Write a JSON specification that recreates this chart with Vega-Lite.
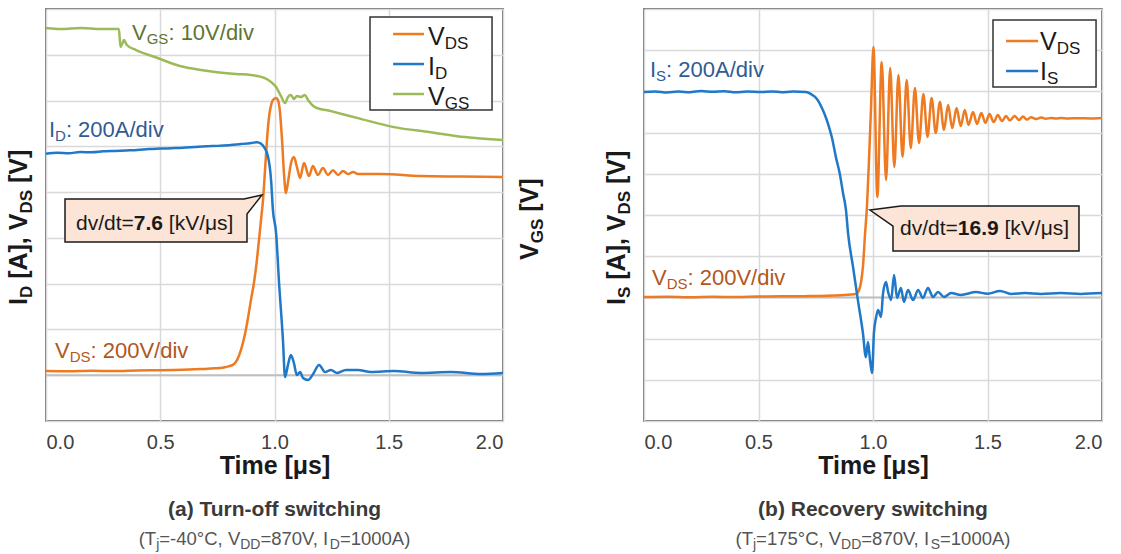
{
"$schema":"https://vega.github.io/schema/vega-lite/v6.json",
"background":"white",
"padding":{"left":6,"top":8,"right":4,"bottom":0},
"autosize":{"type":"pad"},
"config":{"font":"Liberation Sans","view":{"stroke":"#404040","strokeWidth":1.5}},
"datasets":{
"a_main":[
{"s":"V_DS","t":0,"v":18},{"s":"V_DS","t":0.1,"v":17},{"s":"V_DS","t":0.2,"v":19},{"s":"V_DS","t":0.3,"v":18},{"s":"V_DS","t":0.4,"v":21},{"s":"V_DS","t":0.5,"v":22},{"s":"V_DS","t":0.6,"v":24},{"s":"V_DS","t":0.678,"v":27},{"s":"V_DS","t":0.74,"v":30},{"s":"V_DS","t":0.788,"v":36},{"s":"V_DS","t":0.818,"v":45},{"s":"V_DS","t":0.836,"v":66},{"s":"V_DS","t":0.853,"v":110},{"s":"V_DS","t":0.871,"v":180},{"s":"V_DS","t":0.884,"v":250},{"s":"V_DS","t":0.897,"v":329},{"s":"V_DS","t":0.91,"v":403},{"s":"V_DS","t":0.923,"v":503},{"s":"V_DS","t":0.932,"v":590},{"s":"V_DS","t":0.941,"v":678},{"s":"V_DS","t":0.95,"v":769},{"s":"V_DS","t":0.958,"v":887},{"s":"V_DS","t":0.967,"v":1027},{"s":"V_DS","t":0.976,"v":1128},{"s":"V_DS","t":0.985,"v":1180},{"s":"V_DS","t":0.993,"v":1202},{"s":"V_DS","t":1.007,"v":1211},{"s":"V_DS","t":1.015,"v":1202},{"s":"V_DS","t":1.024,"v":1150},{"s":"V_DS","t":1.033,"v":1027},{"s":"V_DS","t":1.042,"v":874},{"s":"V_DS","t":1.05,"v":796},{"s":"V_DS","t":1.06,"v":850},{"s":"V_DS","t":1.072,"v":925},{"s":"V_DS","t":1.085,"v":953},{"s":"V_DS","t":1.098,"v":910},{"s":"V_DS","t":1.112,"v":862},{"s":"V_DS","t":1.129,"v":927},{"s":"V_DS","t":1.151,"v":870},{"s":"V_DS","t":1.168,"v":914},{"s":"V_DS","t":1.19,"v":875},{"s":"V_DS","t":1.212,"v":905},{"s":"V_DS","t":1.234,"v":875},{"s":"V_DS","t":1.256,"v":896},{"s":"V_DS","t":1.278,"v":875},{"s":"V_DS","t":1.3,"v":892},{"s":"V_DS","t":1.322,"v":879},{"s":"V_DS","t":1.344,"v":888},{"s":"V_DS","t":1.365,"v":879},{"s":"V_DS","t":1.466,"v":879},{"s":"V_DS","t":1.641,"v":870},{"s":"V_DS","t":1.816,"v":868},{"s":"V_DS","t":2.0,"v":866},
{"s":"I_D","t":0,"v":968},{"s":"I_D","t":0.05,"v":972},{"s":"I_D","t":0.1,"v":970},{"s":"I_D","t":0.15,"v":975},{"s":"I_D","t":0.2,"v":974},{"s":"I_D","t":0.25,"v":978},{"s":"I_D","t":0.3,"v":980},{"s":"I_D","t":0.35,"v":982},{"s":"I_D","t":0.4,"v":984},{"s":"I_D","t":0.45,"v":988},{"s":"I_D","t":0.5,"v":990},{"s":"I_D","t":0.55,"v":992},{"s":"I_D","t":0.6,"v":994},{"s":"I_D","t":0.65,"v":997},{"s":"I_D","t":0.7,"v":1000},{"s":"I_D","t":0.75,"v":1002},{"s":"I_D","t":0.8,"v":1005},{"s":"I_D","t":0.853,"v":1010},{"s":"I_D","t":0.9,"v":1015},{"s":"I_D","t":0.923,"v":1018},{"s":"I_D","t":0.94,"v":1012},{"s":"I_D","t":0.954,"v":997},{"s":"I_D","t":0.972,"v":953},{"s":"I_D","t":0.985,"v":853},{"s":"I_D","t":0.993,"v":722},{"s":"I_D","t":1.007,"v":621},{"s":"I_D","t":1.02,"v":403},{"s":"I_D","t":1.037,"v":154},{"s":"I_D","t":1.046,"v":-8},{"s":"I_D","t":1.059,"v":45},{"s":"I_D","t":1.072,"v":88},{"s":"I_D","t":1.085,"v":53},{"s":"I_D","t":1.098,"v":1},{"s":"I_D","t":1.112,"v":14},{"s":"I_D","t":1.125,"v":-12},{"s":"I_D","t":1.147,"v":-21},{"s":"I_D","t":1.169,"v":5},{"s":"I_D","t":1.195,"v":45},{"s":"I_D","t":1.221,"v":14},{"s":"I_D","t":1.247,"v":23},{"s":"I_D","t":1.274,"v":10},{"s":"I_D","t":1.313,"v":23},{"s":"I_D","t":1.365,"v":23},{"s":"I_D","t":1.422,"v":14},{"s":"I_D","t":1.523,"v":18},{"s":"I_D","t":1.641,"v":10},{"s":"I_D","t":1.772,"v":14},{"s":"I_D","t":1.904,"v":5},{"s":"I_D","t":2.0,"v":10}
],
"a_gs":[
{"t":0,"v":15.85},{"t":0.066,"v":15.63},{"t":0.153,"v":15.85},{"t":0.241,"v":15.63},{"t":0.319,"v":15.63},{"t":0.326,"v":11.7},{"t":0.333,"v":12.35},{"t":0.341,"v":13.23},{"t":0.354,"v":12.14},{"t":0.394,"v":11.04},{"t":0.477,"v":9.51},{"t":0.586,"v":7.55},{"t":0.678,"v":6.68},{"t":0.74,"v":6.24},{"t":0.832,"v":5.8},{"t":0.897,"v":5.58},{"t":0.958,"v":4.92},{"t":0.985,"v":4.05},{"t":1.007,"v":2.96},{"t":1.028,"v":1.0},{"t":1.046,"v":-0.53},{"t":1.059,"v":0.78},{"t":1.072,"v":1.21},{"t":1.085,"v":0.34},{"t":1.098,"v":1.0},{"t":1.116,"v":0.78},{"t":1.133,"v":1.21},{"t":1.147,"v":0.12},{"t":1.177,"v":-1.43},{"t":1.247,"v":-2.31},{"t":1.365,"v":-3.84},{"t":1.523,"v":-5.8},{"t":1.681,"v":-6.9},{"t":1.834,"v":-7.98},{"t":2.0,"v":-8.64}
],
"b_main":[
{"s":"V_DS","t":0,"v":2},{"s":"V_DS","t":0.1,"v":3},{"s":"V_DS","t":0.2,"v":1},{"s":"V_DS","t":0.3,"v":3},{"s":"V_DS","t":0.4,"v":2},{"s":"V_DS","t":0.5,"v":4},{"s":"V_DS","t":0.6,"v":5},{"s":"V_DS","t":0.7,"v":6},{"s":"V_DS","t":0.8,"v":8},{"s":"V_DS","t":0.86,"v":11},{"s":"V_DS","t":0.926,"v":17},{"s":"V_DS","t":0.939,"v":36},{"s":"V_DS","t":0.948,"v":75},{"s":"V_DS","t":0.956,"v":148},{"s":"V_DS","t":0.965,"v":303},{"s":"V_DS","t":0.974,"v":449},{"s":"V_DS","t":0.983,"v":682},{"s":"V_DS","t":0.991,"v":910},{"s":"V_DS","t":1.002,"v":1215},{"s":"V_DS","t":1.019,"v":487},{"s":"V_DS","t":1.038,"v":1143},{"s":"V_DS","t":1.057,"v":570},{"s":"V_DS","t":1.075,"v":1113},{"s":"V_DS","t":1.093,"v":633},{"s":"V_DS","t":1.111,"v":1080},{"s":"V_DS","t":1.129,"v":682},{"s":"V_DS","t":1.147,"v":1055},{"s":"V_DS","t":1.165,"v":725},{"s":"V_DS","t":1.183,"v":1016},{"s":"V_DS","t":1.201,"v":749},{"s":"V_DS","t":1.22,"v":987},{"s":"V_DS","t":1.238,"v":779},{"s":"V_DS","t":1.256,"v":968},{"s":"V_DS","t":1.274,"v":798},{"s":"V_DS","t":1.292,"v":948},{"s":"V_DS","t":1.31,"v":813},{"s":"V_DS","t":1.328,"v":934},{"s":"V_DS","t":1.346,"v":822},{"s":"V_DS","t":1.365,"v":919},{"s":"V_DS","t":1.383,"v":832},{"s":"V_DS","t":1.401,"v":910},{"s":"V_DS","t":1.417,"v":837},{"s":"V_DS","t":1.437,"v":900},{"s":"V_DS","t":1.454,"v":842},{"s":"V_DS","t":1.473,"v":895},{"s":"V_DS","t":1.491,"v":847},{"s":"V_DS","t":1.509,"v":890},{"s":"V_DS","t":1.527,"v":851},{"s":"V_DS","t":1.545,"v":885},{"s":"V_DS","t":1.563,"v":856},{"s":"V_DS","t":1.581,"v":880},{"s":"V_DS","t":1.598,"v":859},{"s":"V_DS","t":1.618,"v":880},{"s":"V_DS","t":1.638,"v":861},{"s":"V_DS","t":1.655,"v":878},{"s":"V_DS","t":1.672,"v":863},{"s":"V_DS","t":1.69,"v":875},{"s":"V_DS","t":1.712,"v":866},{"s":"V_DS","t":1.734,"v":873},{"s":"V_DS","t":1.755,"v":867},{"s":"V_DS","t":1.777,"v":871},{"s":"V_DS","t":1.8,"v":868},{"s":"V_DS","t":1.821,"v":871},{"s":"V_DS","t":1.85,"v":869},{"s":"V_DS","t":1.9,"v":870},{"s":"V_DS","t":1.95,"v":869},{"s":"V_DS","t":2.0,"v":871},
{"s":"I_S","t":0,"v":997},{"s":"I_S","t":0.05,"v":1000},{"s":"I_S","t":0.1,"v":995},{"s":"I_S","t":0.15,"v":999},{"s":"I_S","t":0.2,"v":996},{"s":"I_S","t":0.249,"v":1002},{"s":"I_S","t":0.3,"v":998},{"s":"I_S","t":0.35,"v":1001},{"s":"I_S","t":0.4,"v":996},{"s":"I_S","t":0.45,"v":999},{"s":"I_S","t":0.511,"v":997},{"s":"I_S","t":0.56,"v":1000},{"s":"I_S","t":0.6,"v":996},{"s":"I_S","t":0.65,"v":999},{"s":"I_S","t":0.707,"v":997},{"s":"I_S","t":0.729,"v":987},{"s":"I_S","t":0.747,"v":973},{"s":"I_S","t":0.764,"v":948},{"s":"I_S","t":0.777,"v":919},{"s":"I_S","t":0.795,"v":871},{"s":"I_S","t":0.808,"v":827},{"s":"I_S","t":0.821,"v":774},{"s":"I_S","t":0.838,"v":681},{"s":"I_S","t":0.856,"v":594},{"s":"I_S","t":0.869,"v":507},{"s":"I_S","t":0.882,"v":424},{"s":"I_S","t":0.891,"v":312},{"s":"I_S","t":0.913,"v":147},{"s":"I_S","t":0.934,"v":-13},{"s":"I_S","t":0.956,"v":-173},{"s":"I_S","t":0.969,"v":-290},{"s":"I_S","t":0.978,"v":-217},{"s":"I_S","t":0.987,"v":-304},{"s":"I_S","t":0.996,"v":-367},{"s":"I_S","t":1.004,"v":-173},{"s":"I_S","t":1.013,"v":-100},{"s":"I_S","t":1.022,"v":-61},{"s":"I_S","t":1.035,"v":-95},{"s":"I_S","t":1.044,"v":21},{"s":"I_S","t":1.057,"v":75},{"s":"I_S","t":1.066,"v":26},{"s":"I_S","t":1.079,"v":-13},{"s":"I_S","t":1.092,"v":109},{"s":"I_S","t":1.105,"v":-3},{"s":"I_S","t":1.122,"v":46},{"s":"I_S","t":1.135,"v":-22},{"s":"I_S","t":1.153,"v":36},{"s":"I_S","t":1.175,"v":-13},{"s":"I_S","t":1.197,"v":36},{"s":"I_S","t":1.218,"v":-3},{"s":"I_S","t":1.24,"v":46},{"s":"I_S","t":1.262,"v":2},{"s":"I_S","t":1.284,"v":26},{"s":"I_S","t":1.31,"v":2},{"s":"I_S","t":1.341,"v":21},{"s":"I_S","t":1.384,"v":12},{"s":"I_S","t":1.45,"v":26},{"s":"I_S","t":1.5,"v":18},{"s":"I_S","t":1.555,"v":31},{"s":"I_S","t":1.603,"v":17},{"s":"I_S","t":1.664,"v":21},{"s":"I_S","t":1.734,"v":17},{"s":"I_S","t":1.821,"v":21},{"s":"I_S","t":1.908,"v":17},{"s":"I_S","t":2.0,"v":21}
]
},
"spacing":141,
"bounds":"flush",
"hconcat":[
{
"width":457,"height":412,
"layer":[
{"data":{"name":"a_gs"},
 "mark":{"type":"line","color":"#9bbb59","strokeWidth":2.5,"interpolate":"monotone"},
 "encoding":{
  "x":{"field":"t","type":"quantitative","scale":{"domain":[0,2],"nice":false},"axis":{"values":[0,0.5,1,1.5,2],"format":".1f","title":"Time [μs]","grid":true,"gridColor":"#d9d9d9","gridWidth":1.5,"ticks":false,"tickSize":0,"domain":false,"labelFontSize":20,"labelColor":"#404040","labelPadding":11,"titleFontSize":25,"titleFontWeight":"bold","titleColor":"#1a1a1a","titleY":52,"titleBaseline":"alphabetic"}},
  "y":{"field":"v","type":"quantitative","scale":{"domain":[-70,20],"nice":false},"axis":null}
 }},
{"data":{"values":[{}]},
 "layer":[
  {"mark":{"type":"rule","color":"#bfbfbf","strokeWidth":2},"encoding":{"y":{"datum":0}}},
  {"data":{"name":"a_main"},
   "mark":{"type":"line","strokeWidth":2.5,"interpolate":"monotone"},
   "encoding":{
    "x":{"field":"t","type":"quantitative","scale":{"domain":[0,2],"nice":false},"axis":{"values":[0,0.5,1,1.5,2],"format":".1f","title":"Time [μs]","grid":true,"gridColor":"#d9d9d9","gridWidth":1.5,"ticks":false,"tickSize":0,"domain":false,"labelFontSize":20,"labelColor":"#404040","labelPadding":11,"titleFontSize":25,"titleFontWeight":"bold","titleColor":"#1a1a1a","titleY":52,"titleBaseline":"alphabetic"}},
    "y":{"field":"v","type":"quantitative","scale":{"domain":[-200,1600],"nice":false},"axis":{"values":[-200,0,200,400,600,800,1000,1200,1400,1600],"grid":true,"gridColor":"#d9d9d9","gridWidth":1.5,"labels":false,"ticks":false,"domain":false,"title":null}},
    "color":{"field":"s","type":"nominal","scale":{"domain":["V_DS","I_D","I_S"],"range":["#ee7a22","#1f78c8","#1f78c8"]},"legend":null}
   }},
  {"mark":{"type":"point","shape":"M-0.7583,-0.1792L0.7333,-0.1792L0.8833,-0.2125L0.7583,-0.0542L0.7583,0.1792L-0.7583,0.1792Z","size":57600,"filled":true,"fill":"#fce4d6","stroke":"#1a1a1a","strokeWidth":1.5,"opacity":1},"encoding":{"x":{"datum":0.4814},"y":{"datum":675.9}}},
  {"mark":{"type":"text","text":"dv/dt=","fontSize":21,"color":"#1a1a1a","align":"left","baseline":"alphabetic"},"encoding":{"x":{"datum":0.1313},"y":{"datum":636.6}}},
  {"mark":{"type":"text","text":"7.6","fontSize":21,"fontWeight":"bold","color":"#1a1a1a","align":"left","baseline":"alphabetic","dx":57.8},"encoding":{"x":{"datum":0.1313},"y":{"datum":636.6}}},
  {"mark":{"type":"text","text":"[kV/μs]","fontSize":21,"color":"#1a1a1a","align":"left","baseline":"alphabetic","dx":92.8},"encoding":{"x":{"datum":0.1313},"y":{"datum":636.6}}},
  {"mark":{"type":"rect","fill":"white","stroke":"#333333","strokeWidth":1.5},"encoding":{"x":{"datum":1.418},"x2":{"datum":1.952},"y":{"datum":1565},"y2":{"datum":1159}}},
  {"mark":{"type":"rule","color":"#ee7a22","strokeWidth":2.5},"encoding":{"x":{"datum":1.519},"x2":{"datum":1.654},"y":{"datum":1490.7}}},
  {"mark":{"type":"rule","color":"#1f78c8","strokeWidth":2.5},"encoding":{"x":{"datum":1.519},"x2":{"datum":1.654},"y":{"datum":1359.6}}},
  {"mark":{"type":"rule","color":"#9bbb59","strokeWidth":2.5},"encoding":{"x":{"datum":1.519},"x2":{"datum":1.654},"y":{"datum":1228.6}}},
  {"mark":{"type":"text","text":"V","fontSize":25,"color":"#1a1a1a","align":"left","baseline":"alphabetic"},"encoding":{"x":{"datum":1.6718},"y":{"datum":1443.5}}},
  {"mark":{"type":"text","text":"DS","fontSize":17,"color":"#1a1a1a","align":"left","baseline":"alphabetic","dx":16.7,"dy":4},"encoding":{"x":{"datum":1.6718},"y":{"datum":1443.5}}},
  {"mark":{"type":"text","text":"I","fontSize":25,"color":"#1a1a1a","align":"left","baseline":"alphabetic"},"encoding":{"x":{"datum":1.6718},"y":{"datum":1312.5}}},
  {"mark":{"type":"text","text":"D","fontSize":17,"color":"#1a1a1a","align":"left","baseline":"alphabetic","dx":7,"dy":4},"encoding":{"x":{"datum":1.6718},"y":{"datum":1312.5}}},
  {"mark":{"type":"text","text":"V","fontSize":25,"color":"#1a1a1a","align":"left","baseline":"alphabetic"},"encoding":{"x":{"datum":1.6718},"y":{"datum":1181.4}}},
  {"mark":{"type":"text","text":"GS","fontSize":17,"color":"#1a1a1a","align":"left","baseline":"alphabetic","dx":16.7,"dy":4},"encoding":{"x":{"datum":1.6718},"y":{"datum":1181.4}}},
  {"mark":{"type":"text","text":"V","fontSize":22,"color":"#5f7530","align":"left","baseline":"alphabetic"},"encoding":{"x":{"datum":0.3764},"y":{"datum":1464.5}}},
  {"mark":{"type":"text","text":"GS","fontSize":15,"color":"#5f7530","align":"left","baseline":"alphabetic","dx":14.7,"dy":4},"encoding":{"x":{"datum":0.3764},"y":{"datum":1464.5}}},
  {"mark":{"type":"text","text":": 10V/div","fontSize":22,"color":"#5f7530","align":"left","baseline":"alphabetic","dx":36.4},"encoding":{"x":{"datum":0.3764},"y":{"datum":1464.5}}},
  {"mark":{"type":"text","text":"I","fontSize":22,"color":"#2f5b94","align":"left","baseline":"alphabetic"},"encoding":{"x":{"datum":0.0131},"y":{"datum":1040.7}}},
  {"mark":{"type":"text","text":"D","fontSize":15,"color":"#2f5b94","align":"left","baseline":"alphabetic","dx":6.1,"dy":4},"encoding":{"x":{"datum":0.0131},"y":{"datum":1040.7}}},
  {"mark":{"type":"text","text":": 200A/div","fontSize":22,"color":"#2f5b94","align":"left","baseline":"alphabetic","dx":16.9},"encoding":{"x":{"datum":0.0131},"y":{"datum":1040.7}}},
  {"mark":{"type":"text","text":"V","fontSize":22,"color":"#b0581c","align":"left","baseline":"alphabetic"},"encoding":{"x":{"datum":0.0394},"y":{"datum":75.1}}},
  {"mark":{"type":"text","text":"DS","fontSize":15,"color":"#b0581c","align":"left","baseline":"alphabetic","dx":14.7,"dy":4},"encoding":{"x":{"datum":0.0394},"y":{"datum":75.1}}},
  {"mark":{"type":"text","text":": 200V/div","fontSize":22,"color":"#b0581c","align":"left","baseline":"alphabetic","dx":35.5},"encoding":{"x":{"datum":0.0394},"y":{"datum":75.1}}},
  {"mark":{"type":"text","text":"I","fontSize":25,"fontWeight":"bold","color":"#1a1a1a","align":"left","baseline":"alphabetic","angle":270},"encoding":{"x":{"datum":-0.0832},"y":{"datum":306.7}}},
  {"mark":{"type":"text","text":"D","fontSize":17,"fontWeight":"bold","color":"#1a1a1a","align":"left","baseline":"alphabetic","angle":270,"dx":6.95,"dy":5},"encoding":{"x":{"datum":-0.0832},"y":{"datum":306.7}}},
  {"mark":{"type":"text","text":"[A], V","fontSize":25,"fontWeight":"bold","color":"#1a1a1a","align":"left","baseline":"alphabetic","angle":270,"dx":26.15},"encoding":{"x":{"datum":-0.0832},"y":{"datum":306.7}}},
  {"mark":{"type":"text","text":"DS","fontSize":17,"fontWeight":"bold","color":"#1a1a1a","align":"left","baseline":"alphabetic","angle":270,"dx":91.4,"dy":5},"encoding":{"x":{"datum":-0.0832},"y":{"datum":306.7}}},
  {"mark":{"type":"text","text":"[V]","fontSize":25,"fontWeight":"bold","color":"#1a1a1a","align":"left","baseline":"alphabetic","angle":270,"dx":121.95},"encoding":{"x":{"datum":-0.0832},"y":{"datum":306.7}}},
  {"mark":{"type":"text","text":"V","fontSize":25,"fontWeight":"bold","color":"#1a1a1a","align":"left","baseline":"alphabetic","angle":270},"encoding":{"x":{"datum":2.1532},"y":{"datum":503.3}}},
  {"mark":{"type":"text","text":"GS","fontSize":17,"fontWeight":"bold","color":"#1a1a1a","align":"left","baseline":"alphabetic","angle":270,"dx":16.7,"dy":5},"encoding":{"x":{"datum":2.1532},"y":{"datum":503.3}}},
  {"mark":{"type":"text","text":"[V]","fontSize":25,"fontWeight":"bold","color":"#1a1a1a","align":"left","baseline":"alphabetic","angle":270,"dx":48.25},"encoding":{"x":{"datum":2.1532},"y":{"datum":503.3}}},
  {"mark":{"type":"text","text":"(a) Turn-off switching","fontSize":21,"fontWeight":"bold","color":"#3a3a3a","align":"center","baseline":"alphabetic"},"encoding":{"x":{"datum":1},"y":{"datum":-615.2}}},
  {"mark":{"type":"text","text":"(T","fontSize":18.5,"color":"#555555","align":"left","baseline":"alphabetic"},"encoding":{"x":{"datum":0.4057},"y":{"datum":-741.8}}},
  {"mark":{"type":"text","text":"j","fontSize":14,"color":"#555555","align":"left","baseline":"alphabetic","dx":17.5,"dy":4},"encoding":{"x":{"datum":0.4057},"y":{"datum":-741.8}}},
  {"mark":{"type":"text","text":"=-40°C, V","fontSize":18.5,"color":"#555555","align":"left","baseline":"alphabetic","dx":20.6},"encoding":{"x":{"datum":0.4057},"y":{"datum":-741.8}}},
  {"mark":{"type":"text","text":"DD","fontSize":14,"color":"#555555","align":"left","baseline":"alphabetic","dx":101.5,"dy":4},"encoding":{"x":{"datum":0.4057},"y":{"datum":-741.8}}},
  {"mark":{"type":"text","text":"=870V, I","fontSize":18.5,"color":"#555555","align":"left","baseline":"alphabetic","dx":121.7},"encoding":{"x":{"datum":0.4057},"y":{"datum":-741.8}}},
  {"mark":{"type":"text","text":"D","fontSize":14,"color":"#555555","align":"left","baseline":"alphabetic","dx":191.1,"dy":4},"encoding":{"x":{"datum":0.4057},"y":{"datum":-741.8}}},
  {"mark":{"type":"text","text":"=1000A)","fontSize":18.5,"color":"#555555","align":"left","baseline":"alphabetic","dx":201.2},"encoding":{"x":{"datum":0.4057},"y":{"datum":-741.8}}}
 ]}
],
"resolve":{"scale":{"y":"independent"}}
},
{
"width":458,"height":412,
"data":{"values":[{}]},
"layer":[
  {"mark":{"type":"rule","color":"#bfbfbf","strokeWidth":2},"encoding":{"y":{"datum":0}}},
  {"data":{"name":"b_main"},
   "mark":{"type":"line","strokeWidth":2.5,"interpolate":"monotone"},
   "encoding":{
    "x":{"field":"t","type":"quantitative","scale":{"domain":[0,2],"nice":false},"axis":{"values":[0,0.5,1,1.5,2],"format":".1f","title":"Time [μs]","grid":true,"gridColor":"#d9d9d9","gridWidth":1.5,"ticks":false,"tickSize":0,"domain":false,"labelFontSize":20,"labelColor":"#404040","labelPadding":11,"titleFontSize":25,"titleFontWeight":"bold","titleColor":"#1a1a1a","titleY":52,"titleBaseline":"alphabetic"}},
    "y":{"field":"v","type":"quantitative","scale":{"domain":[-600,1400],"nice":false},"axis":{"values":[-600,-400,-200,0,200,400,600,800,1000,1200,1400],"grid":true,"gridColor":"#d9d9d9","gridWidth":1.5,"labels":false,"ticks":false,"domain":false,"title":null}},
    "color":{"field":"s","type":"nominal","scale":{"domain":["V_DS","I_D","I_S"],"range":["#ee7a22","#1f78c8","#1f78c8"]},"legend":null}
   }},
  {"mark":{"type":"point","shape":"M-0.7083,-0.1875L0.775,-0.1875L0.775,0.1875L-0.775,0.1875L-0.775,-0.0208L-0.9667,-0.1542Z","size":57600,"filled":true,"fill":"#fce4d6","stroke":"#1a1a1a","strokeWidth":1.5,"opacity":1},"encoding":{"x":{"datum":1.4934},"y":{"datum":334.4}}},
  {"mark":{"type":"text","text":"dv/dt=","fontSize":21,"color":"#1a1a1a","align":"left","baseline":"alphabetic"},"encoding":{"x":{"datum":1.118},"y":{"datum":300.5}}},
  {"mark":{"type":"text","text":"16.9","fontSize":21,"fontWeight":"bold","color":"#1a1a1a","align":"left","baseline":"alphabetic","dx":57.8},"encoding":{"x":{"datum":1.118},"y":{"datum":300.5}}},
  {"mark":{"type":"text","text":"[kV/μs]","fontSize":21,"color":"#1a1a1a","align":"left","baseline":"alphabetic","dx":104.5},"encoding":{"x":{"datum":1.118},"y":{"datum":300.5}}},
  {"mark":{"type":"rect","fill":"white","stroke":"#333333","strokeWidth":1.5},"encoding":{"x":{"datum":1.524},"x2":{"datum":1.974},"y":{"datum":1346.5},"y2":{"datum":1021}}},
  {"mark":{"type":"rule","color":"#ee7a22","strokeWidth":2.5},"encoding":{"x":{"datum":1.581},"x2":{"datum":1.721},"y":{"datum":1244.6}}},
  {"mark":{"type":"rule","color":"#1f78c8","strokeWidth":2.5},"encoding":{"x":{"datum":1.581},"x2":{"datum":1.721},"y":{"datum":1099}}},
  {"mark":{"type":"text","text":"V","fontSize":25,"color":"#1a1a1a","align":"left","baseline":"alphabetic"},"encoding":{"x":{"datum":1.729},"y":{"datum":1200.8}}},
  {"mark":{"type":"text","text":"DS","fontSize":17,"color":"#1a1a1a","align":"left","baseline":"alphabetic","dx":16.7,"dy":4},"encoding":{"x":{"datum":1.729},"y":{"datum":1200.8}}},
  {"mark":{"type":"text","text":"I","fontSize":25,"color":"#1a1a1a","align":"left","baseline":"alphabetic"},"encoding":{"x":{"datum":1.729},"y":{"datum":1055}}},
  {"mark":{"type":"text","text":"S","fontSize":17,"color":"#1a1a1a","align":"left","baseline":"alphabetic","dx":7,"dy":4},"encoding":{"x":{"datum":1.729},"y":{"datum":1055}}},
  {"mark":{"type":"text","text":"I","fontSize":22,"color":"#2f5b94","align":"left","baseline":"alphabetic"},"encoding":{"x":{"datum":0.026},"y":{"datum":1069.8}}},
  {"mark":{"type":"text","text":"S","fontSize":15,"color":"#2f5b94","align":"left","baseline":"alphabetic","dx":6.1,"dy":4},"encoding":{"x":{"datum":0.026},"y":{"datum":1069.8}}},
  {"mark":{"type":"text","text":": 200A/div","fontSize":22,"color":"#2f5b94","align":"left","baseline":"alphabetic","dx":16.1},"encoding":{"x":{"datum":0.026},"y":{"datum":1069.8}}},
  {"mark":{"type":"text","text":"V","fontSize":22,"color":"#b0581c","align":"left","baseline":"alphabetic"},"encoding":{"x":{"datum":0.035},"y":{"datum":60.2}}},
  {"mark":{"type":"text","text":"DS","fontSize":15,"color":"#b0581c","align":"left","baseline":"alphabetic","dx":14.7,"dy":4},"encoding":{"x":{"datum":0.035},"y":{"datum":60.2}}},
  {"mark":{"type":"text","text":": 200V/div","fontSize":22,"color":"#b0581c","align":"left","baseline":"alphabetic","dx":35.5},"encoding":{"x":{"datum":0.035},"y":{"datum":60.2}}},
  {"mark":{"type":"text","text":"I","fontSize":25,"fontWeight":"bold","color":"#1a1a1a","align":"left","baseline":"alphabetic","angle":270},"encoding":{"x":{"datum":-0.083},"y":{"datum":-36.9}}},
  {"mark":{"type":"text","text":"S","fontSize":17,"fontWeight":"bold","color":"#1a1a1a","align":"left","baseline":"alphabetic","angle":270,"dx":6.95,"dy":5},"encoding":{"x":{"datum":-0.083},"y":{"datum":-36.9}}},
  {"mark":{"type":"text","text":"[A], V","fontSize":25,"fontWeight":"bold","color":"#1a1a1a","align":"left","baseline":"alphabetic","angle":270,"dx":25.25},"encoding":{"x":{"datum":-0.083},"y":{"datum":-36.9}}},
  {"mark":{"type":"text","text":"DS","fontSize":17,"fontWeight":"bold","color":"#1a1a1a","align":"left","baseline":"alphabetic","angle":270,"dx":90.5,"dy":5},"encoding":{"x":{"datum":-0.083},"y":{"datum":-36.9}}},
  {"mark":{"type":"text","text":"[V]","fontSize":25,"fontWeight":"bold","color":"#1a1a1a","align":"left","baseline":"alphabetic","angle":270,"dx":121.05},"encoding":{"x":{"datum":-0.083},"y":{"datum":-36.9}}},
  {"mark":{"type":"text","text":"(b) Recovery switching","fontSize":21,"fontWeight":"bold","color":"#3a3a3a","align":"center","baseline":"alphabetic"},"encoding":{"x":{"datum":1},"y":{"datum":-1061.1}}},
  {"mark":{"type":"text","text":"(T","fontSize":18.5,"color":"#555555","align":"left","baseline":"alphabetic"},"encoding":{"x":{"datum":0.3996},"y":{"datum":-1201.9}}},
  {"mark":{"type":"text","text":"j","fontSize":14,"color":"#555555","align":"left","baseline":"alphabetic","dx":17.5,"dy":4},"encoding":{"x":{"datum":0.3996},"y":{"datum":-1201.9}}},
  {"mark":{"type":"text","text":"=175°C, V","fontSize":18.5,"color":"#555555","align":"left","baseline":"alphabetic","dx":20.6},"encoding":{"x":{"datum":0.3996},"y":{"datum":-1201.9}}},
  {"mark":{"type":"text","text":"DD","fontSize":14,"color":"#555555","align":"left","baseline":"alphabetic","dx":105.6,"dy":4},"encoding":{"x":{"datum":0.3996},"y":{"datum":-1201.9}}},
  {"mark":{"type":"text","text":"=870V, I","fontSize":18.5,"color":"#555555","align":"left","baseline":"alphabetic","dx":125.8},"encoding":{"x":{"datum":0.3996},"y":{"datum":-1201.9}}},
  {"mark":{"type":"text","text":"S","fontSize":14,"color":"#555555","align":"left","baseline":"alphabetic","dx":195.2,"dy":4},"encoding":{"x":{"datum":0.3996},"y":{"datum":-1201.9}}},
  {"mark":{"type":"text","text":"=1000A)","fontSize":18.5,"color":"#555555","align":"left","baseline":"alphabetic","dx":204.5},"encoding":{"x":{"datum":0.3996},"y":{"datum":-1201.9}}}
]
}
]
}
